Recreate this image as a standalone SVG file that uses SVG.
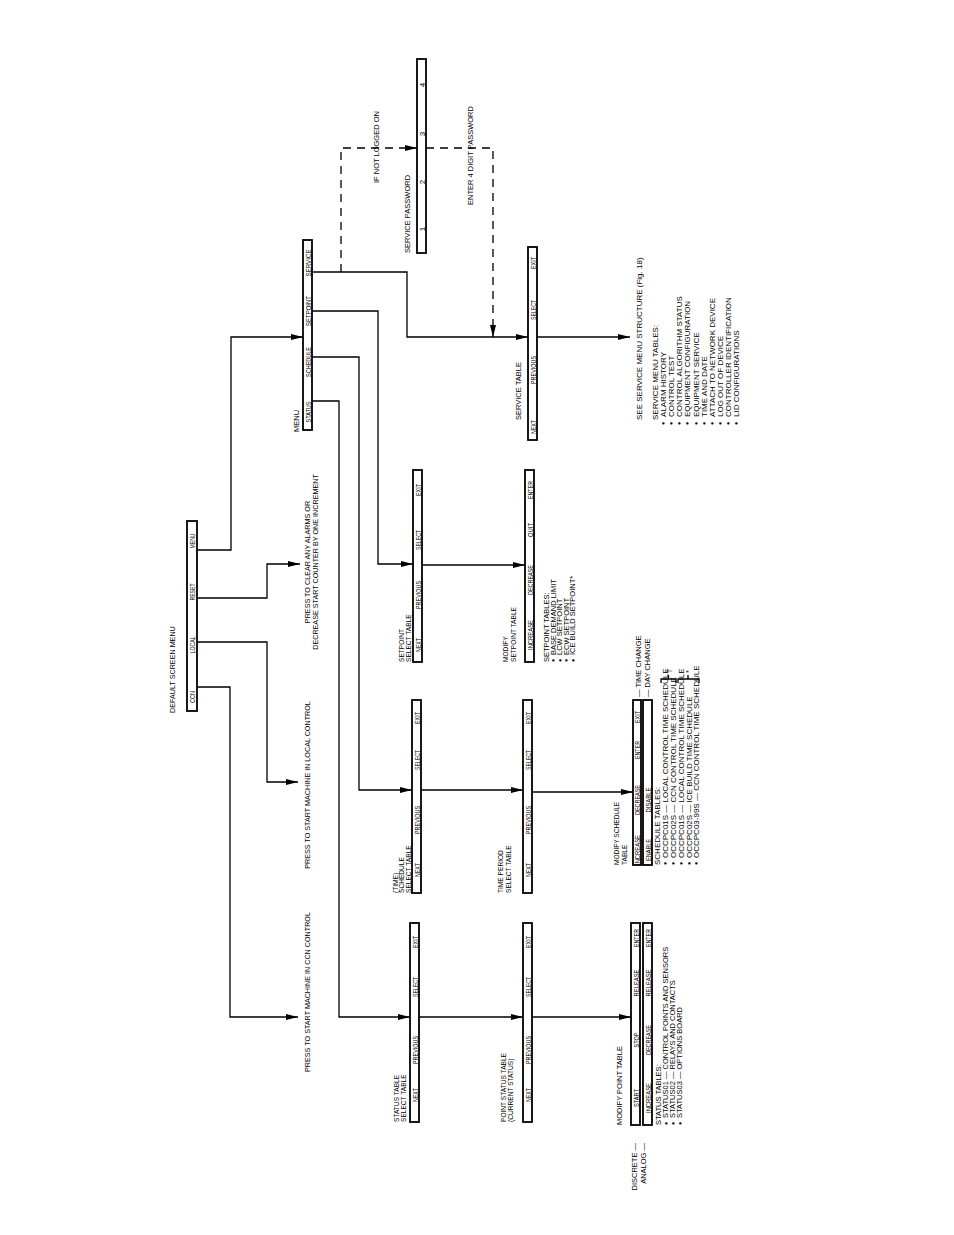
<svg xmlns="http://www.w3.org/2000/svg" width="954" height="1235" viewBox="0 0 954 1235">
<style>
text{font-family:"Liberation Sans",Arial,sans-serif;fill:#000}
.t{font-size:7.2px}
.s{font-size:7.5px}
.l{font-size:6.6px}
.n{font-size:8px}
.k{font-size:8px;text-anchor:middle}
.b{font-size:5.5px}
.box{fill:#fff;stroke:#000;stroke-width:1.8}
.c{fill:none;stroke:#000;stroke-width:1.3}
.d{fill:none;stroke:#000;stroke-width:1.3;stroke-dasharray:8,6}
</style>
<defs>
<marker id="a" viewBox="0 0 12 6" refX="12" refY="3" markerWidth="12" markerHeight="6" markerUnits="userSpaceOnUse" orient="auto"><path d="M0,0L12,3L0,6z" fill="#000"/></marker>
</defs>
<rect width="954" height="1235" fill="#fff"/>
<g transform="translate(0,1235) rotate(-90)">
<g id="connectors">
<polyline class="c" points="548,197 548,230 218,230 218,298" marker-end="url(#a)"/>
<polyline class="c" points="593,197 593,267 453,267 453,298" marker-end="url(#a)"/>
<polyline class="c" points="637,197 637,267 671,267 671,300" marker-end="url(#a)"/>
<polyline class="c" points="685,197 685,231 898,231 898,303" marker-end="url(#a)"/>
<polyline class="c" points="834,312 834,339 218,339 218,410" marker-end="url(#a)"/>
<polyline class="c" points="878,312 878,359 445,359 445,412" marker-end="url(#a)"/>
<polyline class="c" points="924,312 924,378 671,378 671,413" marker-end="url(#a)"/>
<polyline class="c" points="963,312 963,407 898,407 898,528" marker-end="url(#a)"/>
<polyline class="d" points="963,341 1087,341 1087,417" marker-end="url(#a)"/>
<polyline class="d" points="1087,426 1087,493 898,493" marker-end="url(#a)"/>
<polyline class="c" points="898,537 898,630" marker-end="url(#a)"/>
<polyline class="c" points="670,422 670,525" marker-end="url(#a)"/>
<polyline class="c" points="445,421 445,523" marker-end="url(#a)"/>
<polyline class="c" points="443,532 443,633" marker-end="url(#a)"/>
<polyline class="c" points="218,419 218,523" marker-end="url(#a)"/>
<polyline class="c" points="218,532 218,631" marker-end="url(#a)"/>
</g>
<g id="default-menu">
<text class="t" x="522" y="175">DEFAULT SCREEN MENU</text>
<rect class="box" x="524" y="187" width="190" height="10"/>
<text class="k" x="538" y="195" textLength="12" lengthAdjust="spacingAndGlyphs">CCN</text>
<text class="k" x="590" y="195" textLength="17" lengthAdjust="spacingAndGlyphs">LOCAL</text>
<text class="k" x="643" y="195" textLength="17" lengthAdjust="spacingAndGlyphs">RESET</text>
<text class="k" x="694" y="195" textLength="15" lengthAdjust="spacingAndGlyphs">MENU</text>
</g>
<g id="press-texts">
<text class="t" x="243" y="310" text-anchor="middle">PRESS TO START MACHINE IN CCN CONTROL</text>
<text class="t" x="450" y="310" text-anchor="middle">PRESS TO START MACHINE IN LOCAL CONTROL</text>
<text class="t" x="673" y="310" text-anchor="middle">PRESS TO CLEAR ANY ALARMS OR</text>
<text class="t" x="673" y="318" text-anchor="middle">DECREASE START COUNTER BY ONE INCREMENT</text>
</g>
<g id="menu">
<text class="s" x="803" y="299">MENU</text>
<rect class="box" x="805" y="303" width="190" height="9"/>
<text class="k" x="823" y="310.8" textLength="21" lengthAdjust="spacingAndGlyphs">STATUS</text>
<text class="k" x="873" y="310.8" textLength="30" lengthAdjust="spacingAndGlyphs">SCHEDULE</text>
<text class="k" x="924" y="310.8" textLength="30" lengthAdjust="spacingAndGlyphs">SETPOINT</text>
<text class="k" x="972" y="310.8" textLength="27" lengthAdjust="spacingAndGlyphs">SERVICE</text>
</g>
<g id="service-password">
<text class="s" x="1052" y="379">IF NOT LOGGED ON</text>
<text class="s" x="982" y="410">SERVICE PASSWORD</text>
<rect class="box" x="982" y="417" width="194" height="9"/>
<text class="k" x="1006" y="424.5">1</text>
<text class="k" x="1053" y="424.5">2</text>
<text class="k" x="1101" y="424.5">3</text>
<text class="k" x="1150" y="424.5">4</text>
<text class="s" x="1030" y="473">ENTER 4 DIGIT PASSWORD</text>
</g>
<g id="service-table">
<text class="s" x="815" y="521">SERVICE TABLE</text>
<rect class="box" x="795" y="528" width="193" height="9"/>
<text class="k" x="808" y="535.8" textLength="14" lengthAdjust="spacingAndGlyphs">NEXT</text>
<text class="k" x="865" y="535.8" textLength="28" lengthAdjust="spacingAndGlyphs">PREVIOUS</text>
<text class="k" x="925" y="535.8" textLength="20" lengthAdjust="spacingAndGlyphs">SELECT</text>
<text class="k" x="972" y="535.8" textLength="12" lengthAdjust="spacingAndGlyphs">EXIT</text>
</g>
<g id="service-notes">
<text class="n" x="815" y="642">SEE SERVICE MENU STRUCTURE (Fig. 18)</text>
<text class="n" x="815" y="658">SERVICE MENU TABLES:</text>
<g class="b"><text x="810" y="665">●</text><text x="810" y="673">●</text><text x="810" y="681">●</text><text x="810" y="689">●</text><text x="810" y="698">●</text><text x="810" y="706">●</text><text x="810" y="714">●</text><text x="810" y="722">●</text><text x="810" y="730">●</text><text x="810" y="738">●</text></g>
<text class="n" x="818" y="666">ALARM HISTORY</text>
<text class="n" x="818" y="674">CONTROL TEST</text>
<text class="n" x="818" y="682">CONTROL ALGORITHM STATUS</text>
<text class="n" x="818" y="690">EQUIPMENT CONFIGURATION</text>
<text class="n" x="818" y="699">EQUIPMENT SERVICE</text>
<text class="n" x="818" y="707">TIME AND DATE</text>
<text class="n" x="818" y="715">ATTACH TO NETWORK DEVICE</text>
<text class="n" x="818" y="723">LOG OUT OF DEVICE</text>
<text class="n" x="818" y="731">CONTROLLER IDENTIFICATION</text>
<text class="n" x="818" y="739">LID CONFIGURATIONS</text>
</g>
<g id="setpoint-select">
<text class="l" x="573" y="403.5">SETPOINT</text>
<text class="l" x="573" y="410.5">SELECT TABLE</text>
<rect class="box" x="573" y="413" width="192" height="9"/>
<text class="k" x="590" y="420.8" textLength="14" lengthAdjust="spacingAndGlyphs">NEXT</text>
<text class="k" x="640" y="420.8" textLength="28" lengthAdjust="spacingAndGlyphs">PREVIOUS</text>
<text class="k" x="695" y="420.8" textLength="20" lengthAdjust="spacingAndGlyphs">SELECT</text>
<text class="k" x="745" y="420.8" textLength="12" lengthAdjust="spacingAndGlyphs">EXIT</text>
</g>
<g id="modify-setpoint">
<text class="l" x="573" y="508">MODIFY</text>
<text class="l" x="573" y="515.5">SETPOINT TABLE</text>
<rect class="box" x="573" y="525" width="192" height="9"/>
<text class="k" x="600" y="532.8" textLength="30" lengthAdjust="spacingAndGlyphs">INCREASE</text>
<text class="k" x="655" y="532.8" textLength="30" lengthAdjust="spacingAndGlyphs">DECREASE</text>
<text class="k" x="705" y="532.8" textLength="14" lengthAdjust="spacingAndGlyphs">QUIT</text>
<text class="k" x="745" y="532.8" textLength="18" lengthAdjust="spacingAndGlyphs">ENTER</text>
<text class="s" x="573" y="549">SETPOINT TABLES:</text>
<g class="b"><text x="573" y="555">●</text><text x="573" y="561.5">●</text><text x="573" y="568">●</text><text x="573" y="574.5">●</text></g>
<text class="s" x="580" y="555.5">BASE DEMAND LIMIT</text>
<text class="s" x="580" y="562">LCW SETPOINT</text>
<text class="s" x="580" y="568.5">ECW SETPOINT</text>
<text class="s" x="580" y="575">ICE BUILD SETPOINT*</text>
</g>
<g id="schedule-select">
<text class="l" x="342" y="397.5">(TIME)</text>
<text class="l" x="342" y="404">SCHEDULE</text>
<text class="l" x="342" y="410.5">SELECT TABLE</text>
<rect class="box" x="342" y="412" width="193" height="9"/>
<text class="k" x="365" y="419.8" textLength="14" lengthAdjust="spacingAndGlyphs">NEXT</text>
<text class="k" x="415" y="419.8" textLength="28" lengthAdjust="spacingAndGlyphs">PREVIOUS</text>
<text class="k" x="475" y="419.8" textLength="20" lengthAdjust="spacingAndGlyphs">SELECT</text>
<text class="k" x="517" y="419.8" textLength="12" lengthAdjust="spacingAndGlyphs">EXIT</text>
</g>
<g id="time-period">
<text class="l" x="342" y="503">TIME PERIOD</text>
<text class="l" x="342" y="511">SELECT TABLE</text>
<rect class="box" x="342" y="523" width="193" height="9"/>
<text class="k" x="365" y="530.8" textLength="14" lengthAdjust="spacingAndGlyphs">NEXT</text>
<text class="k" x="415" y="530.8" textLength="28" lengthAdjust="spacingAndGlyphs">PREVIOUS</text>
<text class="k" x="475" y="530.8" textLength="20" lengthAdjust="spacingAndGlyphs">SELECT</text>
<text class="k" x="517" y="530.8" textLength="12" lengthAdjust="spacingAndGlyphs">EXIT</text>
</g>
<g id="modify-schedule">
<text class="l" x="370" y="619">MODIFY SCHEDULE</text>
<text class="l" x="370" y="627">TABLE</text>
<rect class="box" x="370" y="633" width="165" height="8"/>
<text class="k" x="385" y="640.2" textLength="30" lengthAdjust="spacingAndGlyphs">INCREASE</text>
<text class="k" x="435" y="640.2" textLength="30" lengthAdjust="spacingAndGlyphs">DECREASE</text>
<text class="k" x="485" y="640.2" textLength="18" lengthAdjust="spacingAndGlyphs">ENTER</text>
<text class="k" x="518" y="640.2" textLength="12" lengthAdjust="spacingAndGlyphs">EXIT</text>
<rect class="box" x="370" y="643" width="165" height="9"/>
<text class="k" x="385" y="650.8" textLength="22" lengthAdjust="spacingAndGlyphs">ENABLE</text>
<text class="k" x="435" y="650.8" textLength="25" lengthAdjust="spacingAndGlyphs">DISABLE</text>
<text class="s" x="538" y="641">— TIME CHANGE</text>
<text class="s" x="538" y="650">— DAY CHANGE</text>
<text class="n" x="370" y="660">SCHEDULE TABLES:</text>
<g class="b"><text x="370" y="667">●</text><text x="370" y="675">●</text><text x="370" y="683">●</text><text x="370" y="691">●</text><text x="370" y="698">●</text></g>
<text class="n" x="377" y="667.5">OCCPC01S — LOCAL CONTROL TIME SCHEDULE</text>
<text class="n" x="377" y="675.5">OCCPC02S — CCN CONTROL TIME SCHEDULE</text>
<text class="n" x="377" y="683.5">OCCPC01S — LOCAL CONTROL TIME SCHEDULE</text>
<text class="n" x="377" y="691.5">OCCPC02S — ICE BUILD TIME SCHEDULE</text>
<text class="n" x="377" y="699">OCCPC03-99S — CCN CONTROL TIME SCHEDULE</text>
<path class="c" d="M552,661H556V676H552M556,668.5H560"/>
<text class="s" x="562" y="671">†</text>
<path class="c" d="M552,678H556V699H552M556,688H560"/>
<text class="s" x="562" y="691">*</text>
</g>
<g id="status-select">
<text class="l" x="113" y="399">STATUS TABLE</text>
<text class="l" x="113" y="406">SELECT TABLE</text>
<rect class="box" x="113" y="410" width="199" height="9"/>
<text class="k" x="140" y="417.8" textLength="14" lengthAdjust="spacingAndGlyphs">NEXT</text>
<text class="k" x="185" y="417.8" textLength="28" lengthAdjust="spacingAndGlyphs">PREVIOUS</text>
<text class="k" x="248" y="417.8" textLength="20" lengthAdjust="spacingAndGlyphs">SELECT</text>
<text class="k" x="293" y="417.8" textLength="12" lengthAdjust="spacingAndGlyphs">EXIT</text>
</g>
<g id="point-status">
<text class="l" x="113" y="506">POINT STATUS TABLE</text>
<text class="l" x="113" y="513">(CURRENT STATUS)</text>
<rect class="box" x="113" y="523" width="199" height="9"/>
<text class="k" x="140" y="530.8" textLength="14" lengthAdjust="spacingAndGlyphs">NEXT</text>
<text class="k" x="185" y="530.8" textLength="28" lengthAdjust="spacingAndGlyphs">PREVIOUS</text>
<text class="k" x="248" y="530.8" textLength="20" lengthAdjust="spacingAndGlyphs">SELECT</text>
<text class="k" x="293" y="530.8" textLength="12" lengthAdjust="spacingAndGlyphs">EXIT</text>
</g>
<g id="modify-point">
<text class="s" x="110" y="622">MODIFY POINT TABLE</text>
<text class="s" x="92" y="637" text-anchor="end">DISCRETE —</text>
<text class="s" x="92" y="646" text-anchor="end">ANALOG —</text>
<rect class="box" x="110" y="631" width="202" height="9"/>
<text class="k" x="137" y="638.8" textLength="18" lengthAdjust="spacingAndGlyphs">START</text>
<text class="k" x="195" y="638.8" textLength="15" lengthAdjust="spacingAndGlyphs">STOP</text>
<text class="k" x="252" y="638.8" textLength="27" lengthAdjust="spacingAndGlyphs">RELEASE</text>
<text class="k" x="297" y="638.8" textLength="18" lengthAdjust="spacingAndGlyphs">ENTER</text>
<rect class="box" x="110" y="643" width="202" height="9"/>
<text class="k" x="137" y="650.8" textLength="30" lengthAdjust="spacingAndGlyphs">INCREASE</text>
<text class="k" x="195" y="650.8" textLength="30" lengthAdjust="spacingAndGlyphs">DECREASE</text>
<text class="k" x="252" y="650.8" textLength="27" lengthAdjust="spacingAndGlyphs">RELEASE</text>
<text class="k" x="297" y="650.8" textLength="18" lengthAdjust="spacingAndGlyphs">ENTER</text>
<text class="s" x="110" y="661">STATUS TABLES:</text>
<g class="b"><text x="110" y="667.5">●</text><text x="110" y="674.5">●</text><text x="110" y="681.5">●</text></g>
<text class="s" x="117" y="668">STATUS01 — CONTROL POINTS AND SENSORS</text>
<text class="s" x="117" y="675">STATUS02 — RELAYS AND CONTACTS</text>
<text class="s" x="117" y="682">STATUS03 — OPTIONS BOARD</text>
</g>
</g>
</svg>
